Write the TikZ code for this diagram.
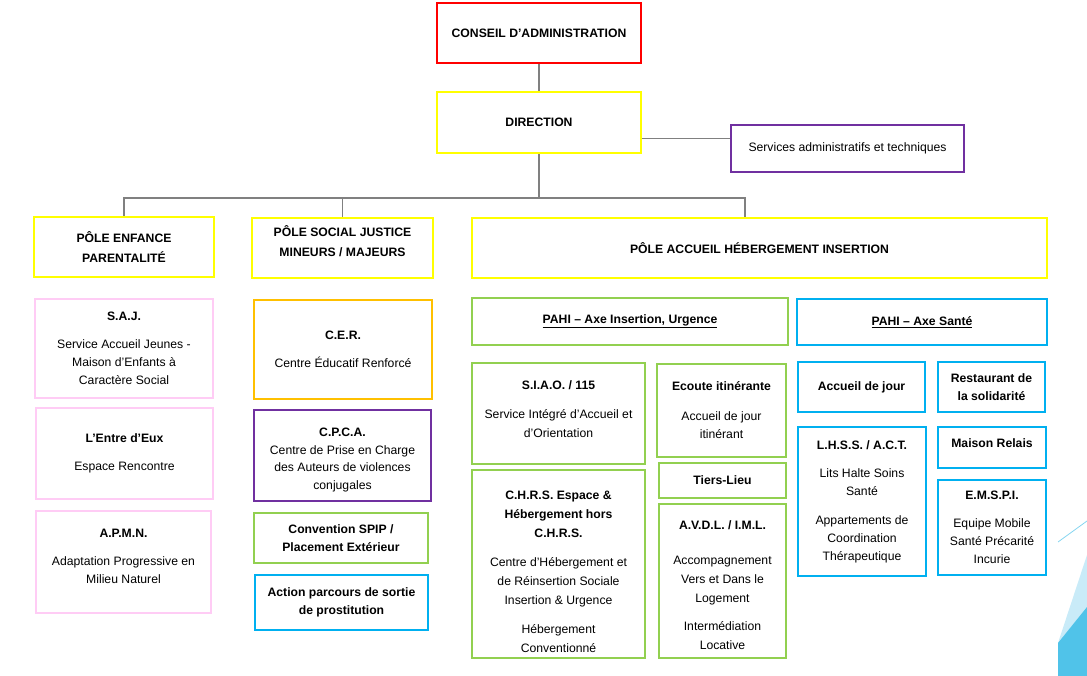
\documentclass[tikz,border=0pt]{standalone}
\usepackage{fontspec}
\setmainfont{Liberation Sans}
\definecolor{cared}{HTML}{FF0000}
\definecolor{yel}{HTML}{FFFF00}
\definecolor{purp}{HTML}{7030A0}
\definecolor{pinkc}{HTML}{FFCCF5}
\definecolor{orangec}{HTML}{FFC000}
\definecolor{greenc}{HTML}{92D050}
\definecolor{bluec}{HTML}{00B0F0}
\definecolor{decolight}{HTML}{C9EBF8}
\definecolor{decodark}{HTML}{50C3E9}
\tikzset{
  box/.style={draw=#1,line width=2.5pt,fill=white,align=center,inner sep=2pt,
    font=\fontsize{12.2}{18}\selectfont},
  link/.style={draw=gray,line width=1.3pt}
}
\begin{document}
\begin{tikzpicture}[x=1pt,y=-1pt]
\useasboundingbox (0,0) rectangle (1087,676);
% decoration
\fill[decolight] (1087,555) -- (1058,643) -- (1058,676) -- (1087,676) -- cycle;
\fill[decodark] (1058,643) -- (1087,607) -- (1087,676) -- (1058,676) -- cycle;
\draw[decodark!70,line width=0.8pt] (1058,542) -- (1087,521);
% top
\node[box=cared,minimum width=204,minimum height=60,font=\fontsize{12.2}{18}\selectfont\bfseries] (ca) at (539,33) {CONSEIL D’ADMINISTRATION};
\node[box=yel,minimum width=204,minimum height=61,font=\fontsize{12.2}{18}\selectfont\bfseries] (dir) at (539,122.5) {DIRECTION};
\node[box=purp,minimum width=233,minimum height=47] (sat) at (847.5,148.5) {Services administratifs et techniques};
% poles
\node[box=yel,minimum width=180,minimum height=60,font=\fontsize{12.2}{20}\selectfont\bfseries] (pe) at (124,247) {PÔLE ENFANCE\\PARENTALITÉ};
\node[box=yel,minimum width=181,minimum height=60,font=\fontsize{12.2}{20}\selectfont\bfseries] (ps) at (342.5,248) {PÔLE SOCIAL JUSTICE\\MINEURS / MAJEURS\\[-6pt]\mbox{}};
\node[box=yel,minimum width=575,minimum height=60,font=\fontsize{12.2}{18}\selectfont\bfseries] (pa) at (759.5,248) {PÔLE ACCUEIL HÉBERGEMENT INSERTION};
% connectors
\coordinate (bus) at (539,198);
\coordinate (pdrop) at (745,198);
\draw[link] (ca) -- (dir);
\draw[link] ([yshift=-16pt]dir.east) -- ([yshift=-16pt]dir.east -| sat.west);
\draw[link] (dir) -- (bus);
\draw[link] (pe.north) |- (pdrop) -- (pdrop |- pa.north);
\draw[link] (ps.north) -- (ps.north |- bus);
% pole enfance
\node[box=pinkc,minimum width=178,minimum height=99] (saj) at (124,348.5) {\textbf{S.A.J.}\\[10pt]Service Accueil Jeunes -\\Maison d’Enfants à\\Caractère Social};
\node[box=pinkc,minimum width=177,minimum height=91] (entre) at (124.5,453.5) {\textbf{L’Entre d’Eux}\\[10pt]Espace Rencontre};
\node[box=pinkc,minimum width=175,minimum height=102] (apmn) at (123.5,562) {\textbf{A.P.M.N.}\\[10pt]Adaptation Progressive en\\Milieu Naturel\\[-6pt]\mbox{}};
% pole social
\node[box=orangec,minimum width=178,minimum height=99] (cer) at (343,349.5) {\textbf{C.E.R.}\\[10pt]Centre Éducatif Renforcé};
\node[box=purp,minimum width=177,minimum height=91,font=\fontsize{12.2}{17.5}\selectfont] (cpca) at (342.5,455.5) {\mbox{}\\[0pt]\textbf{C.P.C.A.}\\Centre de Prise en Charge\\des Auteurs de violences\\conjugales};
\node[box=greenc,minimum width=174,minimum height=50,font=\fontsize{12.2}{18}\selectfont\bfseries] (spip) at (341,538) {Convention SPIP /\\Placement Extérieur};
\node[box=bluec,minimum width=173,minimum height=55,font=\fontsize{12.2}{18}\selectfont\bfseries] (prost) at (341.5,602.5) {Action parcours de sortie\\de prostitution};
% pole accueil - insertion
\node[box=greenc,minimum width=316,minimum height=47] (pahi1) at (630,321.5) {\textbf{\underline{PAHI – Axe Insertion, Urgence}}};
\node[box=greenc,minimum width=173,minimum height=101,font=\fontsize{12.2}{19}\selectfont] (siao) at (558.5,413.5) {\textbf{S.I.A.O. / 115}\\[10pt]Service Intégré d’Accueil et\\d’Orientation\\[-11pt]\mbox{}};
\node[box=greenc,minimum width=173,minimum height=188,font=\fontsize{12.2}{19}\selectfont] (chrs) at (558.5,564) {\mbox{}\\[6pt]\textbf{C.H.R.S. Espace \&}\\\textbf{Hébergement hors}\\\textbf{C.H.R.S.}\\[10pt]Centre d’Hébergement et\\de Réinsertion Sociale\\Insertion \& Urgence\\[10pt]Hébergement\\Conventionné};
\node[box=greenc,minimum width=129,minimum height=93] (ecoute) at (721.5,410.5) {\textbf{Ecoute itinérante}\\[12pt]Accueil de jour\\itinérant};
\node[box=greenc,minimum width=127,minimum height=35,font=\fontsize{12.2}{18}\selectfont\bfseries] (tiers) at (722.5,480.5) {Tiers-Lieu};
\node[box=greenc,minimum width=127,minimum height=154,font=\fontsize{12.2}{18.7}\selectfont] (avdl) at (722.5,581) {\mbox{}\\[-2pt]\textbf{A.V.D.L. / I.M.L.}\\[17pt]Accompagnement\\Vers et Dans le\\Logement\\[10pt]Intermédiation\\Locative};
% pole accueil - sante
\node[box=bluec,minimum width=250,minimum height=46] (pahi2) at (922,322) {\textbf{\underline{PAHI – Axe Santé}}};
\node[box=bluec,minimum width=127,minimum height=50,font=\fontsize{12.2}{18}\selectfont\bfseries] (accj) at (861.5,387) {Accueil de jour};
\node[box=bluec,minimum width=107,minimum height=50,font=\fontsize{12.2}{18}\selectfont\bfseries] (resto) at (991.5,387) {Restaurant de\\la solidarité};
\node[box=bluec,minimum width=128,minimum height=149] (lhss) at (862,501.5) {\textbf{L.H.S.S. / A.C.T.}\\[10pt]Lits Halte Soins\\Santé\\[11pt]Appartements de\\Coordination\\Thérapeutique};
\node[box=bluec,minimum width=108,minimum height=41,font=\fontsize{12.2}{18}\selectfont\bfseries] (relais) at (992,447.5) {Maison Relais\\[-10pt]\mbox{}};
\node[box=bluec,minimum width=108,minimum height=95] (emspi) at (992,527.5) {\textbf{E.M.S.P.I.}\\[10pt]Equipe Mobile\\Santé Précarité\\Incurie};
\end{tikzpicture}
\end{document}
